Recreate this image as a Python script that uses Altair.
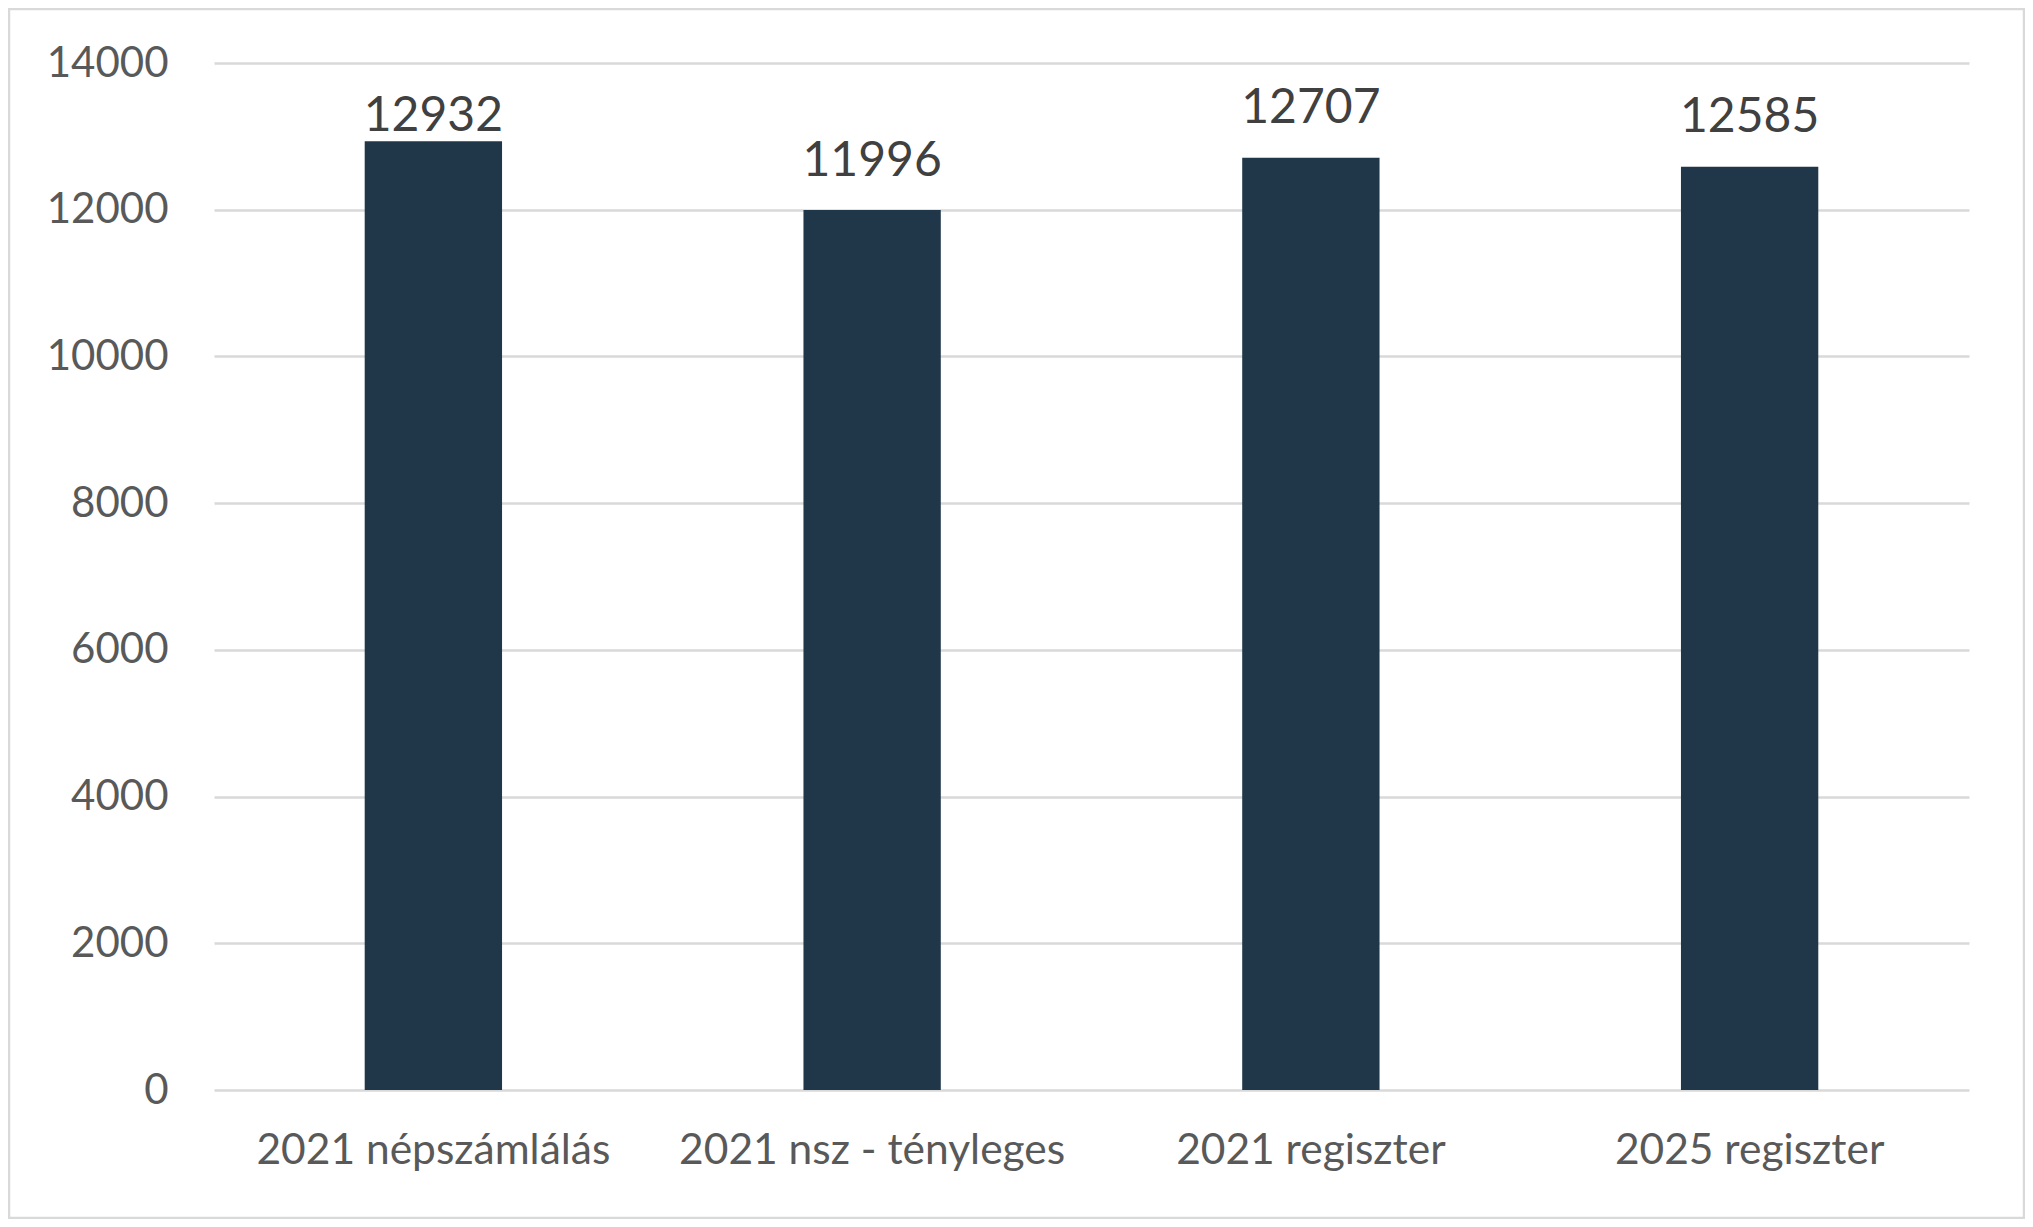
import altair as alt
import pandas as pd

categories = ["2021 népszámlálás", "2021 nsz - tényleges", "2021 regiszter", "2025 regiszter"]
values = [12932, 11996, 12707, 12585]

df = pd.DataFrame({"cat": categories, "val": values})

FONT = "Lato"
W, H = 1755, 1027

base = alt.Chart(df)

x_enc = alt.X(
    "cat:N",
    sort=categories,
    title=None,
    scale=alt.Scale(paddingInner=0.687, paddingOuter=0.3435),
    axis=alt.Axis(
        labelAngle=0,
        labelFont=FONT,
        labelFontSize=42.5,
        labelColor="#595959",
        labelBaseline="alphabetic",
        labelPadding=73,
        labelLimit=1000,
        ticks=False,
        tickSize=0,
        domain=False,
        grid=False,
    ),
)

y_enc = alt.Y(
    "val:Q",
    title=None,
    scale=alt.Scale(domain=[0, 14000], nice=False),
    axis=alt.Axis(
        values=[0, 2000, 4000, 6000, 8000, 10000, 12000, 14000],
        labelFont=FONT,
        labelFontSize=42,
        labelColor="#595959",
        labelPadding=46,
        ticks=False,
        tickSize=0,
        domain=False,
        grid=True,
        gridColor="#d9d9d9",
        gridWidth=2.5,
        format="d",
    ),
)

bars = base.mark_bar(color="#203649").encode(x=x_enc, y=y_enc)

# labels sit outside the bar end; a label that would leave the plot area is
# tucked down just above its bar (as in the source)
labels = base.transform_calculate(
    ly="datum.val + 470 > 13300 ? datum.val + 141 : datum.val + 470"
).mark_text(
    font=FONT, fontSize=48, color="#404040", baseline="alphabetic"
).encode(
    x=alt.X("cat:N", sort=categories),
    y=alt.Y("ly:Q", scale=alt.Scale(domain=[0, 14000], nice=False)),
    text=alt.Text("val:Q", format="d"),
)

border = alt.Chart(alt.Data(values=[{"a": 1}])).mark_rect(
    fillOpacity=0, stroke="#d9d9d9", strokeWidth=2.5
).encode(
    x=alt.value(-205), x2=alt.value(1810), y=alt.value(-54), y2=alt.value(1155)
)

chart = alt.layer(bars, labels, border).properties(
    width=W,
    height=H,
    autosize=alt.AutoSizeParams(type="none"),
    padding={"left": 206, "top": 55, "right": 56, "bottom": 129},
    background="white",
).configure_view(stroke=None)

chart.save("out.html", embed_options={"renderer": "svg", "actions": False})
